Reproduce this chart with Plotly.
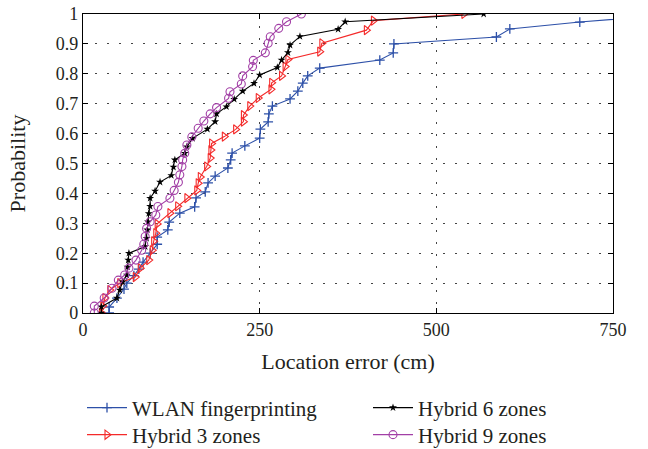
import plotly.graph_objects as go

# ---- data ----
wlan_x = [37, 37, 48, 58, 62, 72, 79, 85, 95, 105, 105, 120, 122, 137, 158, 160, 173, 177, 187, 205,
          209, 211, 229, 250, 251, 262, 263, 268, 293, 304, 311, 318, 335, 420, 439, 440, 585, 604, 703, 845]
wlan_y = [0.0, 0.02, 0.05, 0.08, 0.10, 0.125, 0.147, 0.17, 0.20, 0.23, 0.254, 0.278, 0.304, 0.334, 0.355,
          0.385, 0.405, 0.435, 0.458, 0.485, 0.512, 0.535, 0.559, 0.585, 0.615, 0.639, 0.666, 0.692, 0.716,
          0.742, 0.769, 0.793, 0.819, 0.846, 0.87, 0.90, 0.923, 0.95, 0.973, 1.0]

h3_x = [26, 28, 31, 38, 52, 74, 81, 93, 98, 100, 103, 105, 123, 134, 147, 161, 163, 166, 175, 180, 181,
        182, 200, 216, 227, 227, 236, 248, 266, 267, 281, 286, 290, 335, 338, 401, 411, 539]
h3_y = [0.0, 0.023, 0.05, 0.077, 0.10, 0.12, 0.15, 0.177, 0.21, 0.24, 0.267, 0.298, 0.334, 0.357, 0.384,
        0.41, 0.434, 0.455, 0.49, 0.518, 0.545, 0.567, 0.59, 0.614, 0.64, 0.662, 0.692, 0.719, 0.748, 0.77,
        0.793, 0.824, 0.848, 0.874, 0.902, 0.946, 0.978, 1.0]

h6_x = [26, 26, 48, 52, 56, 62, 63, 64, 65, 88, 90, 91, 92, 93, 95, 95, 102, 109, 125, 128, 130, 144,
        147, 155, 176, 187, 189, 203, 214, 226, 242, 250, 275, 281, 290, 293, 307, 361, 371, 567]
h6_y = [0.0, 0.021, 0.05, 0.077, 0.104, 0.127, 0.154, 0.177, 0.2, 0.222, 0.25, 0.278, 0.305, 0.333, 0.357,
        0.384, 0.408, 0.438, 0.46, 0.488, 0.512, 0.534, 0.556, 0.584, 0.615, 0.64, 0.666, 0.69, 0.715, 0.742,
        0.768, 0.796, 0.821, 0.846, 0.871, 0.896, 0.925, 0.949, 0.974, 1.0]

h9_x = [16, 16, 30, 41, 50, 59, 65, 75, 83, 86, 88, 90, 95, 103, 106, 123, 129, 135, 137, 140, 141, 144,
        147, 154, 163, 171, 180, 189, 206, 208, 224, 226, 240, 241, 258, 262, 265, 277, 288, 309]
h9_y = [0.0, 0.023, 0.05, 0.083, 0.11, 0.127, 0.15, 0.177, 0.21, 0.23, 0.256, 0.283, 0.305, 0.328, 0.356,
        0.384, 0.41, 0.437, 0.462, 0.49, 0.512, 0.534, 0.562, 0.589, 0.618, 0.642, 0.666, 0.687, 0.718, 0.74,
        0.766, 0.793, 0.824, 0.845, 0.87, 0.902, 0.924, 0.952, 0.974, 1.0]

x_ticks = [0, 250, 500, 750]
y_ticks = [0, 0.1, 0.2, 0.3, 0.4, 0.5, 0.6, 0.7, 0.8, 0.9, 1]
y_tick_text = ["0", "0.1", "0.2", "0.3", "0.4", "0.5", "0.6", "0.7", "0.8", "0.9", "1"]

FONT = "Liberation Serif"
TXT = "#231f20"

BLUE = "#2d50a8"
RED = "#f42a2a"
PURPLE = "#a23fa6"

fig = go.Figure()
fig.add_trace(go.Scatter(x=wlan_x, y=wlan_y, name="WLAN fingerprinting", mode="lines+markers",
                         line=dict(color=BLUE, width=1.1),
                         marker=dict(symbol="cross-thin-open", size=7, line=dict(color=BLUE, width=1.3)),
                         legend="legend"))
fig.add_trace(go.Scatter(x=h3_x, y=h3_y, name="Hybrid 3 zones", mode="lines+markers",
                         line=dict(color=RED, width=1.1),
                         marker=dict(symbol="triangle-right-open", size=8, line=dict(color=RED, width=1.1)),
                         legend="legend2"))
fig.add_trace(go.Scatter(x=h6_x, y=h6_y, name="Hybrid 6 zones", mode="lines+markers",
                         line=dict(color="black", width=1.1),
                         marker=dict(symbol="star", size=6, color="black"),
                         legend="legend3"))
fig.add_trace(go.Scatter(x=h9_x, y=h9_y, name="Hybrid 9 zones", mode="lines+markers",
                         line=dict(color=PURPLE, width=1.1),
                         marker=dict(symbol="circle-open", size=8, line=dict(color=PURPLE, width=1.1)),
                         legend="legend4"))

axis_common = dict(showline=True, linecolor="black", linewidth=1.3, mirror="ticks",
                   ticks="inside", ticklen=5, tickcolor="black", tickwidth=1,
                   showgrid=True, gridcolor="#444444", gridwidth=1, griddash="2px,10px",
                   zeroline=False, automargin=False, ticklabeloverflow="allow",
                   tickfont=dict(family=FONT, size=18, color=TXT))

fig.update_xaxes(range=[0, 750], tickvals=x_ticks, ticktext=[str(v) for v in x_ticks],
                 title=dict(text="Location error (cm)", font=dict(family=FONT, size=22, color=TXT), standoff=14),
                 **axis_common)
fig.update_yaxes(range=[0, 1], tickvals=y_ticks, ticktext=y_tick_text,
                 title=dict(text="Probability", font=dict(family=FONT, size=22, color=TXT), standoff=24),
                 **axis_common)

def leg(x, y):
    return dict(orientation="v", bgcolor="rgba(0,0,0,0)", font=dict(family=FONT, size=21, color=TXT),
                xref="paper", yref="paper", xanchor="left", yanchor="middle",
                x=x, y=y, itemwidth=40, borderwidth=0)

# plot area: 83..613 x 14..313 px on the page
row1 = -(408 - 313) / 299
row2 = -(435 - 313) / 299
col1 = (82 - 83) / 530
col2 = (368 - 83) / 530

fig.update_layout(
    width=648, height=449,
    margin=dict(l=83, r=35, t=14, b=136, autoexpand=False),
    plot_bgcolor="white", paper_bgcolor="white",
    showlegend=True,
    legend=leg(col1, row1),
    legend2=leg(col1, row2),
    legend3=leg(col2, row1),
    legend4=leg(col2, row2),
)

# remove the browser's default 8px body margin so the figure fills the window exactly
fig.write_html("out.html", config={"displayModeBar": False},
               post_script="document.body.style.margin='0';")
